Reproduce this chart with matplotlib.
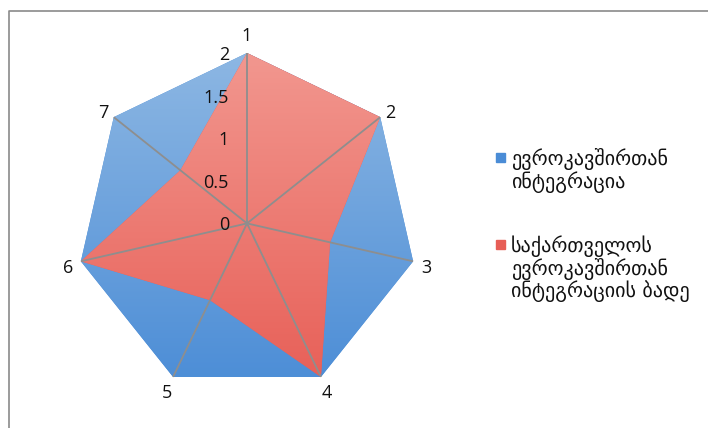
import matplotlib.pyplot as plt
import numpy as np
from matplotlib.colors import LinearSegmentedColormap
from matplotlib.lines import Line2D
from matplotlib.patches import Rectangle

categories = ['1', '2', '3', '4', '5', '6', '7']
eu_integration = [2, 2, 2, 2, 2, 2, 2]
georgia_grid = [2, 2, 1, 2, 1, 2, 1]
r_ticks = [0, 0.5, 1, 1.5, 2]
series_names = ['ევროკავშირთან\nინტეგრაცია',
                'საქართველოს\nევროკავშირთან\nინტეგრაციის ბადე']
series_colors = [('#8db7e3', '#4a8cd6'), ('#f2978f', '#e75e56')]

fig = plt.figure(figsize=(7.08, 4.28), dpi=100)
W, H = 708, 428

# polar axes: centre (247, 223.4) px, radius 170.4 px
cx, cy, R = 247, 223.4, 170.4
ax = fig.add_axes([(cx - R) / W, (H - cy - R) / H, 2 * R / W, 2 * R / H],
                  projection='polar')
ax.set_theta_zero_location('N')
ax.set_theta_direction(-1)
ax.set_autoscale_on(False)

angles = np.linspace(0, 2 * np.pi, len(categories), endpoint=False)
grad = np.linspace(0, 1, 256).reshape(-1, 1)

z = 1
for vals, (top, bot) in zip([eu_integration, georgia_grid], series_colors):
    th = np.append(angles, angles[0])
    rr = np.append(vals, vals[0])
    patch, = ax.fill(th, rr, color=bot, lw=0, zorder=z)
    cmap = LinearSegmentedColormap.from_list('g', [bot, top])
    img = ax.imshow(grad, cmap=cmap, extent=[0, 1, 0, 1], transform=ax.transAxes,
                    aspect='auto', origin='lower', zorder=z + 0.1,
                    interpolation='bilinear')
    img.set_clip_path(patch)
    z += 1

ax.set_thetalim(0, 2 * np.pi)
ax.set_ylim(0, 2)

# spokes only, no rings
ax.set_axisbelow(False)
ax.set_xticks(angles)
ax.set_xticklabels([])
ax.set_yticks(r_ticks)
ax.set_yticklabels([])
ax.yaxis.grid(False)
ax.xaxis.grid(True, color='#8e8e8e', lw=1.3)
ax.spines['polar'].set_visible(False)
ax.patch.set_visible(False)
ax.tick_params(length=0)

for a, lab in zip(angles, categories):
    if lab == '1':
        dx, dy = 0, 12.5
    else:
        dx, dy = 9.5 * np.sin(a), 9.5 * np.cos(a) - 3
    ax.annotate(lab, (a, 2), xytext=(dx, dy), textcoords='offset points',
                ha='center', va='center', fontsize=13, family='Open Sans',
                color='#111111', zorder=10)

for r in r_ticks:
    ax.annotate(f'{r:g}', (0, r), xytext=(-13, -1.5), textcoords='offset points',
                ha='right', va='center', fontsize=13, family='Open Sans',
                color='#111111', zorder=10)

# legend
leg_y = [153, 240]
for (top, bot), name, y in zip(series_colors, series_names, leg_y):
    fig.add_artist(Rectangle((496 / W, 1 - (y + 9) / H), 9 / W, 9 / H,
                             transform=fig.transFigure, color=bot))
    fig.text(511 / W, 1 - (y - 5) / H, name, ha='left', va='top',
             fontsize=14.5, family='DejaVu Sans', linespacing=1.05, color='#111111')

# chart frame
fy = 1 - 10.8 / H
fx = 9 / W
fig.add_artist(Line2D([fx, fx, 1], [0, fy, fy], transform=fig.transFigure,
                      color='#8a8a8a', lw=1.2))

fig.savefig('out.png', dpi=100, facecolor='white')
